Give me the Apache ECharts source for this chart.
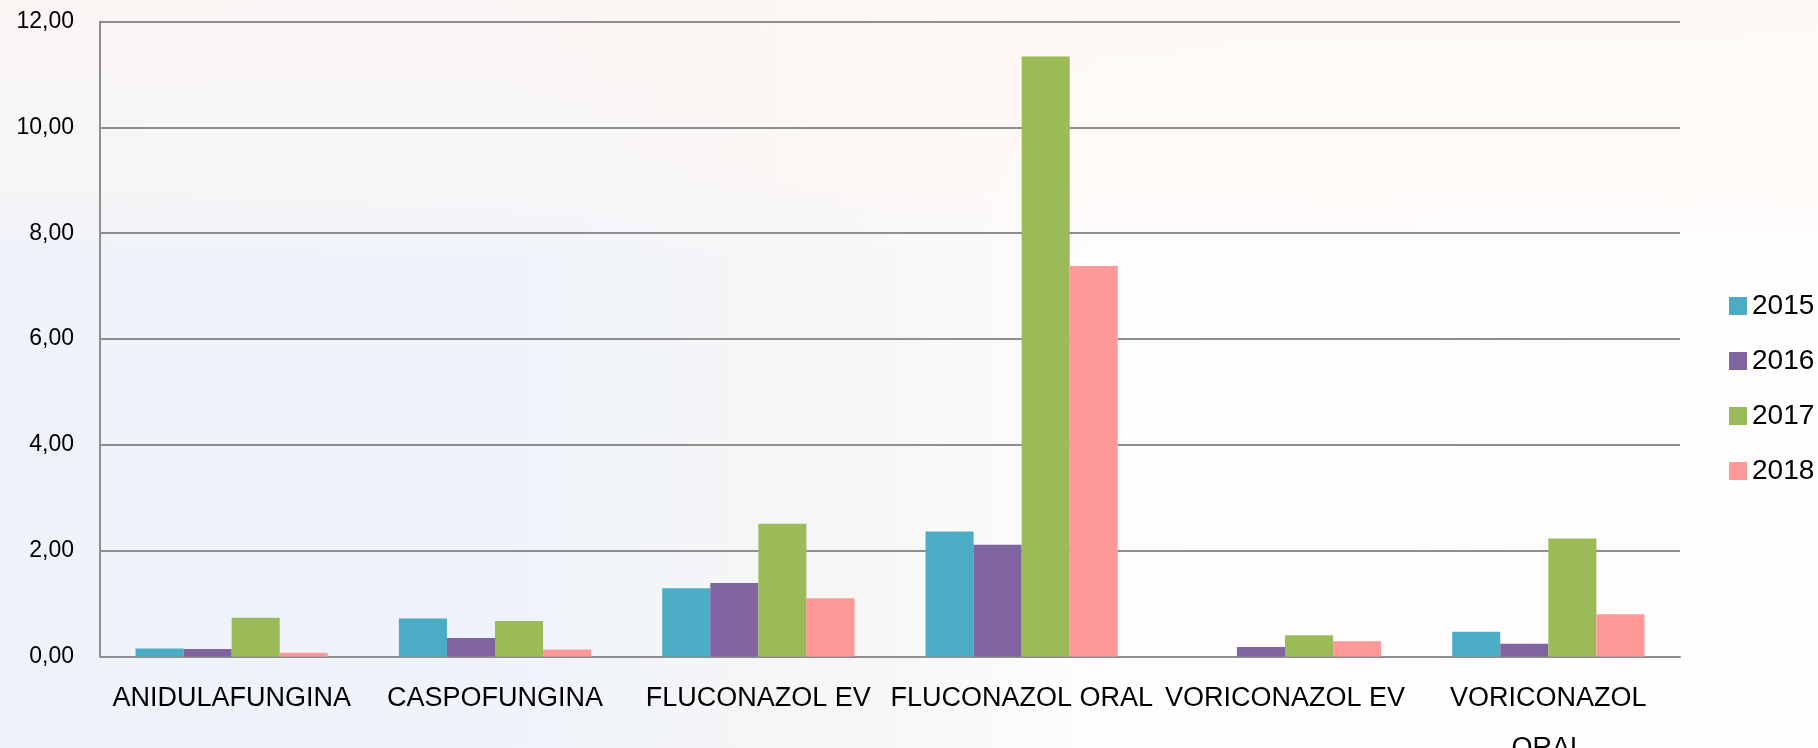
<!DOCTYPE html>
<html>
<head>
<meta charset="utf-8">
<script src="https://cdn.jsdelivr.net/npm/echarts@6/dist/echarts.min.js"></script>
<style>
  html, body { margin: 0; padding: 0; background: #ffffff; }
  #chart { width: 1818px; height: 748px; }
</style>
</head>
<body>
<div id="chart"></div>
<script>
const categories = ['ANIDULAFUNGINA', 'CASPOFUNGINA', 'FLUCONAZOL EV', 'FLUCONAZOL ORAL', 'VORICONAZOL EV', 'VORICONAZOL\nORAL'];
const seriesNames = ['2015', '2016', '2017', '2018'];
const values2015 = [0.15, 0.72, 1.29, 2.36, 0, 0.47];
const values2016 = [0.14, 0.35, 1.39, 2.11, 0.18, 0.24];
const values2017 = [0.73, 0.67, 2.51, 11.34, 0.40, 2.23];
const values2018 = [0.07, 0.13, 1.10, 7.38, 0.29, 0.80];
const yTicks = { min: 0, max: 12, interval: 2 };
const colors = ['#4BACC6', '#8064A2', '#9BBB59', '#FF9999'];

const allValues = [values2015, values2016, values2017, values2018];
const chart = echarts.init(document.getElementById('chart'));
const FONT = '"Liberation Sans", Arial, sans-serif';

chart.setOption({
  animation: false,
  backgroundColor: {
    type: 'linear', x: 0, y: 0, x2: 1, y2: 0,
    colorStops: [
      { offset: 0, color: '#eef2f9' },
      { offset: 0.3, color: '#f0f4fa' },
      { offset: 0.45, color: '#f6f6f6' },
      { offset: 0.6, color: '#fefcfc' },
      { offset: 1, color: '#fffdfd' }
    ]
  },
  graphic: [{
    type: 'rect', z: -10, silent: true,
    shape: { x: 0, y: 0, width: 1818, height: 260 },
    style: {
      fill: {
        type: 'linear', x: 0, y: 0, x2: 0, y2: 1,
        colorStops: [
          { offset: 0, color: 'rgba(255,247,242,0.7)' },
          { offset: 0.7, color: 'rgba(255,248,244,0.5)' },
          { offset: 1, color: 'rgba(255,250,248,0)' }
        ]
      }
    }
  }],
  color: colors,
  grid: { left: 100, right: 138, top: 21.5, bottom: 91.5, containLabel: false, outerBoundsMode: 'none' },
  legend: {
    orient: 'vertical',
    left: 1724,
    top: 287,
    itemWidth: 18,
    itemHeight: 18,
    itemGap: 27,
    icon: 'rect',
    data: seriesNames,
    textStyle: { fontFamily: FONT, fontSize: 28, color: '#000', lineHeight: 28, padding: [0, 0, 0, 0] }
  },
  xAxis: {
    type: 'category',
    data: categories,
    axisLine: { show: true, lineStyle: { color: '#8e8e8e', width: 2 } },
    axisTick: { show: false },
    axisLabel: {
      interval: 0,
      margin: 17,
      fontFamily: FONT,
      fontSize: 27,
      lineHeight: 50,
      color: '#000'
    }
  },
  yAxis: {
    type: 'value',
    min: yTicks.min,
    max: yTicks.max,
    interval: yTicks.interval,
    axisLine: { show: true, lineStyle: { color: '#8e8e8e', width: 2 } },
    axisTick: { show: false },
    splitLine: { show: true, lineStyle: { color: '#8e8e8e', width: 2 } },
    axisLabel: {
      margin: 26,
      fontFamily: FONT,
      fontSize: 23,
      color: '#000',
      formatter: v => v.toFixed(2).replace('.', ',')
    }
  },
  series: seriesNames.map((name, i) => ({
    name,
    type: 'bar',
    data: allValues[i],
    barGap: '0%',
    barCategoryGap: '27%',
    itemStyle: { color: colors[i] }
  }))
});
</script>
</body>
</html>
